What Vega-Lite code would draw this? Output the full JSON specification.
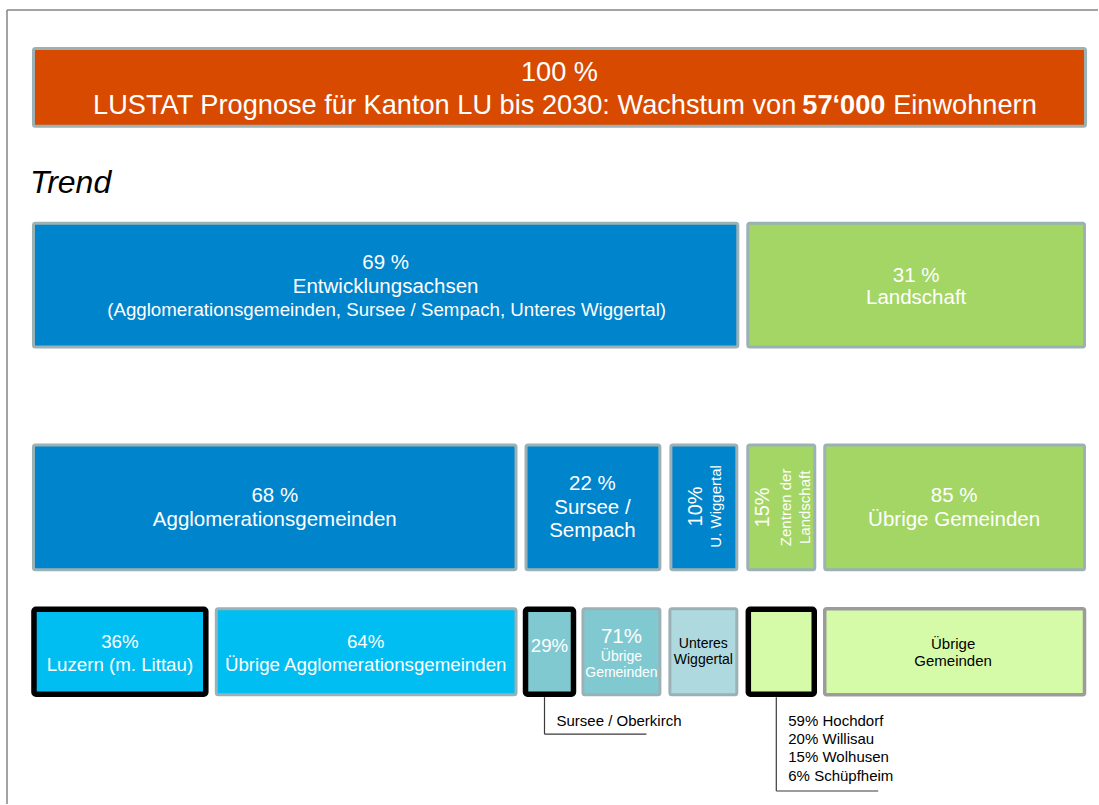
{
  "$schema": "https://vega.github.io/schema/vega-lite/v6.json",
  "width": 1099,
  "height": 805,
  "autosize": {"type": "fit", "contains": "padding"},
  "padding": 0,
  "background": "white",
  "config": {"view": {"stroke": null}, "font": "Liberation Sans"},
  "datasets": {
    "boxes": [
      {"id": "total", "group": "Kanton", "frame": "grau", "x0": 33.5, "x1": 1086.5, "y0": 48.5, "y1": 126.5},
      {"id": "achsen", "group": "Achse", "frame": "grau", "x0": 33.5, "x1": 738.5, "y0": 223.5, "y1": 347.5},
      {"id": "landschaft", "group": "Landschaft", "frame": "grau", "x0": 748.5, "x1": 1085.5, "y0": 223.5, "y1": 347.5},
      {"id": "agglo", "group": "Achse", "frame": "grau", "x0": 33.5, "x1": 516.5, "y0": 445.5, "y1": 570.5},
      {"id": "sursee", "group": "Achse", "frame": "grau", "x0": 526.5, "x1": 660.5, "y0": 445.5, "y1": 570.5},
      {"id": "wigger", "group": "Achse", "frame": "grau", "x0": 671.5, "x1": 737.5, "y0": 445.5, "y1": 570.5},
      {"id": "zentren", "group": "Landschaft", "frame": "grau", "x0": 748.5, "x1": 815.5, "y0": 445.5, "y1": 570.5},
      {"id": "uebrige", "group": "Landschaft", "frame": "grau", "x0": 825.5, "x1": 1085.5, "y0": 445.5, "y1": 570.5},
      {"id": "luzern", "group": "Agglo", "frame": "schwarz", "x0": 34, "x1": 206, "y0": 610, "y1": 695},
      {"id": "uebrAgglo", "group": "Agglo", "frame": "grau", "x0": 216.5, "x1": 516.5, "y0": 609.5, "y1": 695.5},
      {"id": "surseeOber", "group": "Sursee", "frame": "schwarz", "x0": 526, "x1": 574, "y0": 610, "y1": 695},
      {"id": "surseeUebr", "group": "Sursee", "frame": "grau", "x0": 583.5, "x1": 660.5, "y0": 609.5, "y1": 695.5},
      {"id": "unteresW", "group": "Wiggertal", "frame": "grau", "x0": 670.5, "x1": 737.5, "y0": 609.5, "y1": 695.5},
      {"id": "zentrenK", "group": "Zentren", "frame": "schwarz", "x0": 749, "x1": 815, "y0": 610, "y1": 695},
      {"id": "uebrigeG", "group": "Zentren", "frame": "dunkelgrau", "x0": 825.5, "x1": 1085.5, "y0": 609.5, "y1": 695.5}
    ],
    "lines": [
      {"kind": "frame", "x0": 7, "y0": 10, "x1": 7, "y1": 805},
      {"kind": "frame", "x0": 7, "y0": 10, "x1": 1099, "y1": 10},
      {"kind": "callout", "x0": 545, "y0": 698, "x1": 545, "y1": 735},
      {"kind": "callout", "x0": 545, "y0": 735, "x1": 647, "y1": 735},
      {"kind": "callout", "x0": 777, "y0": 698, "x1": 777, "y1": 792},
      {"kind": "callout", "x0": 777, "y0": 792, "x1": 879, "y1": 792}
    ],
    "labels": [
      {"kind": "head", "text": "100 %", "x": 560, "y": 73},
      {"kind": "headL", "text": "LUSTAT Prognose für Kanton LU bis 2030: Wachstum von", "x": 797, "y": 106},
      {"kind": "headB", "text": "57‘000", "x": 803, "y": 106},
      {"kind": "headR", "text": "Einwohnern", "x": 894, "y": 106},
      {"kind": "trend", "text": "Trend", "x": 30, "y": 183},
      {"kind": "big", "text": "69 %", "x": 386, "y": 263},
      {"kind": "big", "text": "Entwicklungsachsen", "x": 386, "y": 287},
      {"kind": "mid", "text": "(Agglomerationsgemeinden, Sursee / Sempach, Unteres Wiggertal)", "x": 387, "y": 310},
      {"kind": "big", "text": "31 %", "x": 917, "y": 276},
      {"kind": "big", "text": "Landschaft", "x": 917, "y": 298},
      {"kind": "big", "text": "68 %", "x": 275, "y": 497},
      {"kind": "big", "text": "Agglomerationsgemeinden", "x": 275, "y": 521},
      {"kind": "big", "text": "22 %", "x": 593, "y": 485},
      {"kind": "big", "text": "Sursee /", "x": 593, "y": 509},
      {"kind": "big", "text": "Sempach", "x": 593, "y": 532},
      {"kind": "rotBig", "text": "10%", "x": 697, "y": 507},
      {"kind": "rotSmall", "text": "U. Wiggertal", "x": 717, "y": 507},
      {"kind": "rotBig", "text": "15%", "x": 764, "y": 508},
      {"kind": "rotSmall", "text": "Zentren der", "x": 787, "y": 508},
      {"kind": "rotSmall", "text": "Landschaft", "x": 806, "y": 508},
      {"kind": "big", "text": "85 %", "x": 955, "y": 497},
      {"kind": "big", "text": "Übrige Gemeinden", "x": 955, "y": 521},
      {"kind": "mid", "text": "36%", "x": 120, "y": 643},
      {"kind": "mid", "text": "Luzern (m. Littau)", "x": 120, "y": 666},
      {"kind": "mid", "text": "64%", "x": 366, "y": 643},
      {"kind": "mid", "text": "Übrige Agglomerationsgemeinden", "x": 366, "y": 666},
      {"kind": "mid", "text": "29%", "x": 550, "y": 647},
      {"kind": "big", "text": "71%", "x": 622, "y": 638},
      {"kind": "small", "text": "Übrige", "x": 622, "y": 658},
      {"kind": "small", "text": "Gemeinden", "x": 622, "y": 674},
      {"kind": "dark", "text": "Unteres", "x": 704, "y": 645},
      {"kind": "dark", "text": "Wiggertal", "x": 704, "y": 661},
      {"kind": "dark2", "text": "Übrige", "x": 954, "y": 645},
      {"kind": "dark2", "text": "Gemeinden", "x": 954, "y": 662},
      {"kind": "note", "text": "Sursee / Oberkirch", "x": 557, "y": 722},
      {"kind": "note", "text": "59% Hochdorf", "x": 789, "y": 722},
      {"kind": "note", "text": "20% Willisau", "x": 789, "y": 740},
      {"kind": "note", "text": "15% Wolhusen", "x": 789, "y": 758},
      {"kind": "note", "text": "6% Schüpfheim", "x": 789, "y": 777}
    ]
  },
  "layer": [
    {
      "data": {"name": "lines"},
      "transform": [{"filter": "datum.kind === 'frame'"}],
      "mark": {"type": "rule", "color": "#858585", "strokeWidth": 1.5},
      "encoding": {
        "x": {"field": "x0", "type": "quantitative", "scale": {"domain": [0, 1099], "nice": false, "zero": false}, "axis": null},
        "x2": {"field": "x1"},
        "y": {"field": "y0", "type": "quantitative", "scale": {"domain": [0, 805], "nice": false, "zero": false, "reverse": true}, "axis": null},
        "y2": {"field": "y1"}
      }
    },
    {
      "data": {"name": "lines"},
      "transform": [{"filter": "datum.kind === 'callout'"}],
      "mark": {"type": "rule", "color": "#3a3a3a", "strokeWidth": 1.2},
      "encoding": {
        "x": {"field": "x0", "type": "quantitative", "scale": {"domain": [0, 1099], "nice": false, "zero": false}, "axis": null},
        "x2": {"field": "x1"},
        "y": {"field": "y0", "type": "quantitative", "scale": {"domain": [0, 805], "nice": false, "zero": false, "reverse": true}, "axis": null},
        "y2": {"field": "y1"}
      }
    },
    {
      "data": {"name": "boxes"},
      "transform": [{"filter": "datum.frame === 'grau'"}],
      "mark": {"type": "rect", "cornerRadius": 2, "stroke": "#9BB1B6", "strokeWidth": 3},
      "encoding": {
        "x": {"field": "x0", "type": "quantitative", "scale": {"domain": [0, 1099], "nice": false, "zero": false}, "axis": null},
        "x2": {"field": "x1"},
        "y": {"field": "y0", "type": "quantitative", "scale": {"domain": [0, 805], "nice": false, "zero": false, "reverse": true}, "axis": null},
        "y2": {"field": "y1"},
        "fill": {"field": "group", "type": "nominal", "scale": {"domain": ["Kanton", "Achse", "Landschaft", "Agglo", "Sursee", "Wiggertal", "Zentren"], "range": ["#D84A00", "#0084CC", "#A3D665", "#00BEF2", "#80C9D1", "#AEDADF", "#D6FBA8"]}, "legend": null}
      }
    },
    {
      "data": {"name": "boxes"},
      "transform": [{"filter": "datum.frame === 'dunkelgrau'"}],
      "mark": {"type": "rect", "cornerRadius": 2, "stroke": "#9C9C9C", "strokeWidth": 3.5},
      "encoding": {
        "x": {"field": "x0", "type": "quantitative", "scale": {"domain": [0, 1099], "nice": false, "zero": false}, "axis": null},
        "x2": {"field": "x1"},
        "y": {"field": "y0", "type": "quantitative", "scale": {"domain": [0, 805], "nice": false, "zero": false, "reverse": true}, "axis": null},
        "y2": {"field": "y1"},
        "fill": {"field": "group", "type": "nominal", "scale": {"domain": ["Kanton", "Achse", "Landschaft", "Agglo", "Sursee", "Wiggertal", "Zentren"], "range": ["#D84A00", "#0084CC", "#A3D665", "#00BEF2", "#80C9D1", "#AEDADF", "#D6FBA8"]}, "legend": null}
      }
    },
    {
      "data": {"name": "boxes"},
      "transform": [{"filter": "datum.frame === 'schwarz'"}],
      "mark": {"type": "rect", "cornerRadius": 2, "stroke": "#000000", "strokeWidth": 5.5},
      "encoding": {
        "x": {"field": "x0", "type": "quantitative", "scale": {"domain": [0, 1099], "nice": false, "zero": false}, "axis": null},
        "x2": {"field": "x1"},
        "y": {"field": "y0", "type": "quantitative", "scale": {"domain": [0, 805], "nice": false, "zero": false, "reverse": true}, "axis": null},
        "y2": {"field": "y1"},
        "fill": {"field": "group", "type": "nominal", "scale": {"domain": ["Kanton", "Achse", "Landschaft", "Agglo", "Sursee", "Wiggertal", "Zentren"], "range": ["#D84A00", "#0084CC", "#A3D665", "#00BEF2", "#80C9D1", "#AEDADF", "#D6FBA8"]}, "legend": null}
      }
    },
    {
      "data": {"name": "labels"},
      "transform": [{"filter": "datum.kind === 'head'"}],
      "mark": {"type": "text", "align": "center", "baseline": "middle", "fontSize": 27.2, "color": "white"},
      "encoding": {
        "x": {"field": "x", "type": "quantitative", "scale": {"domain": [0, 1099], "nice": false, "zero": false}, "axis": null},
        "y": {"field": "y", "type": "quantitative", "scale": {"domain": [0, 805], "nice": false, "zero": false, "reverse": true}, "axis": null},
        "text": {"field": "text"}
      }
    },
    {
      "data": {"name": "labels"},
      "transform": [{"filter": "datum.kind === 'headL'"}],
      "mark": {"type": "text", "align": "right", "baseline": "middle", "fontSize": 27.2, "color": "white"},
      "encoding": {
        "x": {"field": "x", "type": "quantitative", "scale": {"domain": [0, 1099], "nice": false, "zero": false}, "axis": null},
        "y": {"field": "y", "type": "quantitative", "scale": {"domain": [0, 805], "nice": false, "zero": false, "reverse": true}, "axis": null},
        "text": {"field": "text"}
      }
    },
    {
      "data": {"name": "labels"},
      "transform": [{"filter": "datum.kind === 'headR'"}],
      "mark": {"type": "text", "align": "left", "baseline": "middle", "fontSize": 27.2, "color": "white"},
      "encoding": {
        "x": {"field": "x", "type": "quantitative", "scale": {"domain": [0, 1099], "nice": false, "zero": false}, "axis": null},
        "y": {"field": "y", "type": "quantitative", "scale": {"domain": [0, 805], "nice": false, "zero": false, "reverse": true}, "axis": null},
        "text": {"field": "text"}
      }
    },
    {
      "data": {"name": "labels"},
      "transform": [{"filter": "datum.kind === 'headB'"}],
      "mark": {"type": "text", "align": "left", "baseline": "middle", "fontSize": 27.2, "fontWeight": "bold", "color": "white"},
      "encoding": {
        "x": {"field": "x", "type": "quantitative", "scale": {"domain": [0, 1099], "nice": false, "zero": false}, "axis": null},
        "y": {"field": "y", "type": "quantitative", "scale": {"domain": [0, 805], "nice": false, "zero": false, "reverse": true}, "axis": null},
        "text": {"field": "text"}
      }
    },
    {
      "data": {"name": "labels"},
      "transform": [{"filter": "datum.kind === 'trend'"}],
      "mark": {"type": "text", "align": "left", "baseline": "middle", "fontSize": 32, "fontStyle": "italic", "color": "black"},
      "encoding": {
        "x": {"field": "x", "type": "quantitative", "scale": {"domain": [0, 1099], "nice": false, "zero": false}, "axis": null},
        "y": {"field": "y", "type": "quantitative", "scale": {"domain": [0, 805], "nice": false, "zero": false, "reverse": true}, "axis": null},
        "text": {"field": "text"}
      }
    },
    {
      "data": {"name": "labels"},
      "transform": [{"filter": "datum.kind === 'big'"}],
      "mark": {"type": "text", "align": "center", "baseline": "middle", "fontSize": 20.5, "color": "white"},
      "encoding": {
        "x": {"field": "x", "type": "quantitative", "scale": {"domain": [0, 1099], "nice": false, "zero": false}, "axis": null},
        "y": {"field": "y", "type": "quantitative", "scale": {"domain": [0, 805], "nice": false, "zero": false, "reverse": true}, "axis": null},
        "text": {"field": "text"}
      }
    },
    {
      "data": {"name": "labels"},
      "transform": [{"filter": "datum.kind === 'mid'"}],
      "mark": {"type": "text", "align": "center", "baseline": "middle", "fontSize": 18.7, "color": "white"},
      "encoding": {
        "x": {"field": "x", "type": "quantitative", "scale": {"domain": [0, 1099], "nice": false, "zero": false}, "axis": null},
        "y": {"field": "y", "type": "quantitative", "scale": {"domain": [0, 805], "nice": false, "zero": false, "reverse": true}, "axis": null},
        "text": {"field": "text"}
      }
    },
    {
      "data": {"name": "labels"},
      "transform": [{"filter": "datum.kind === 'small'"}],
      "mark": {"type": "text", "align": "center", "baseline": "middle", "fontSize": 14, "color": "white"},
      "encoding": {
        "x": {"field": "x", "type": "quantitative", "scale": {"domain": [0, 1099], "nice": false, "zero": false}, "axis": null},
        "y": {"field": "y", "type": "quantitative", "scale": {"domain": [0, 805], "nice": false, "zero": false, "reverse": true}, "axis": null},
        "text": {"field": "text"}
      }
    },
    {
      "data": {"name": "labels"},
      "transform": [{"filter": "datum.kind === 'rotBig'"}],
      "mark": {"type": "text", "align": "center", "baseline": "middle", "fontSize": 20, "angle": 270, "color": "white"},
      "encoding": {
        "x": {"field": "x", "type": "quantitative", "scale": {"domain": [0, 1099], "nice": false, "zero": false}, "axis": null},
        "y": {"field": "y", "type": "quantitative", "scale": {"domain": [0, 805], "nice": false, "zero": false, "reverse": true}, "axis": null},
        "text": {"field": "text"}
      }
    },
    {
      "data": {"name": "labels"},
      "transform": [{"filter": "datum.kind === 'rotSmall'"}],
      "mark": {"type": "text", "align": "center", "baseline": "middle", "fontSize": 15, "angle": 270, "color": "white"},
      "encoding": {
        "x": {"field": "x", "type": "quantitative", "scale": {"domain": [0, 1099], "nice": false, "zero": false}, "axis": null},
        "y": {"field": "y", "type": "quantitative", "scale": {"domain": [0, 805], "nice": false, "zero": false, "reverse": true}, "axis": null},
        "text": {"field": "text"}
      }
    },
    {
      "data": {"name": "labels"},
      "transform": [{"filter": "datum.kind === 'dark'"}],
      "mark": {"type": "text", "align": "center", "baseline": "middle", "fontSize": 14, "color": "black"},
      "encoding": {
        "x": {"field": "x", "type": "quantitative", "scale": {"domain": [0, 1099], "nice": false, "zero": false}, "axis": null},
        "y": {"field": "y", "type": "quantitative", "scale": {"domain": [0, 805], "nice": false, "zero": false, "reverse": true}, "axis": null},
        "text": {"field": "text"}
      }
    },
    {
      "data": {"name": "labels"},
      "transform": [{"filter": "datum.kind === 'dark2'"}],
      "mark": {"type": "text", "align": "center", "baseline": "middle", "fontSize": 15, "color": "black"},
      "encoding": {
        "x": {"field": "x", "type": "quantitative", "scale": {"domain": [0, 1099], "nice": false, "zero": false}, "axis": null},
        "y": {"field": "y", "type": "quantitative", "scale": {"domain": [0, 805], "nice": false, "zero": false, "reverse": true}, "axis": null},
        "text": {"field": "text"}
      }
    },
    {
      "data": {"name": "labels"},
      "transform": [{"filter": "datum.kind === 'note'"}],
      "mark": {"type": "text", "align": "left", "baseline": "middle", "fontSize": 15, "color": "black"},
      "encoding": {
        "x": {"field": "x", "type": "quantitative", "scale": {"domain": [0, 1099], "nice": false, "zero": false}, "axis": null},
        "y": {"field": "y", "type": "quantitative", "scale": {"domain": [0, 805], "nice": false, "zero": false, "reverse": true}, "axis": null},
        "text": {"field": "text"}
      }
    }
  ]
}
